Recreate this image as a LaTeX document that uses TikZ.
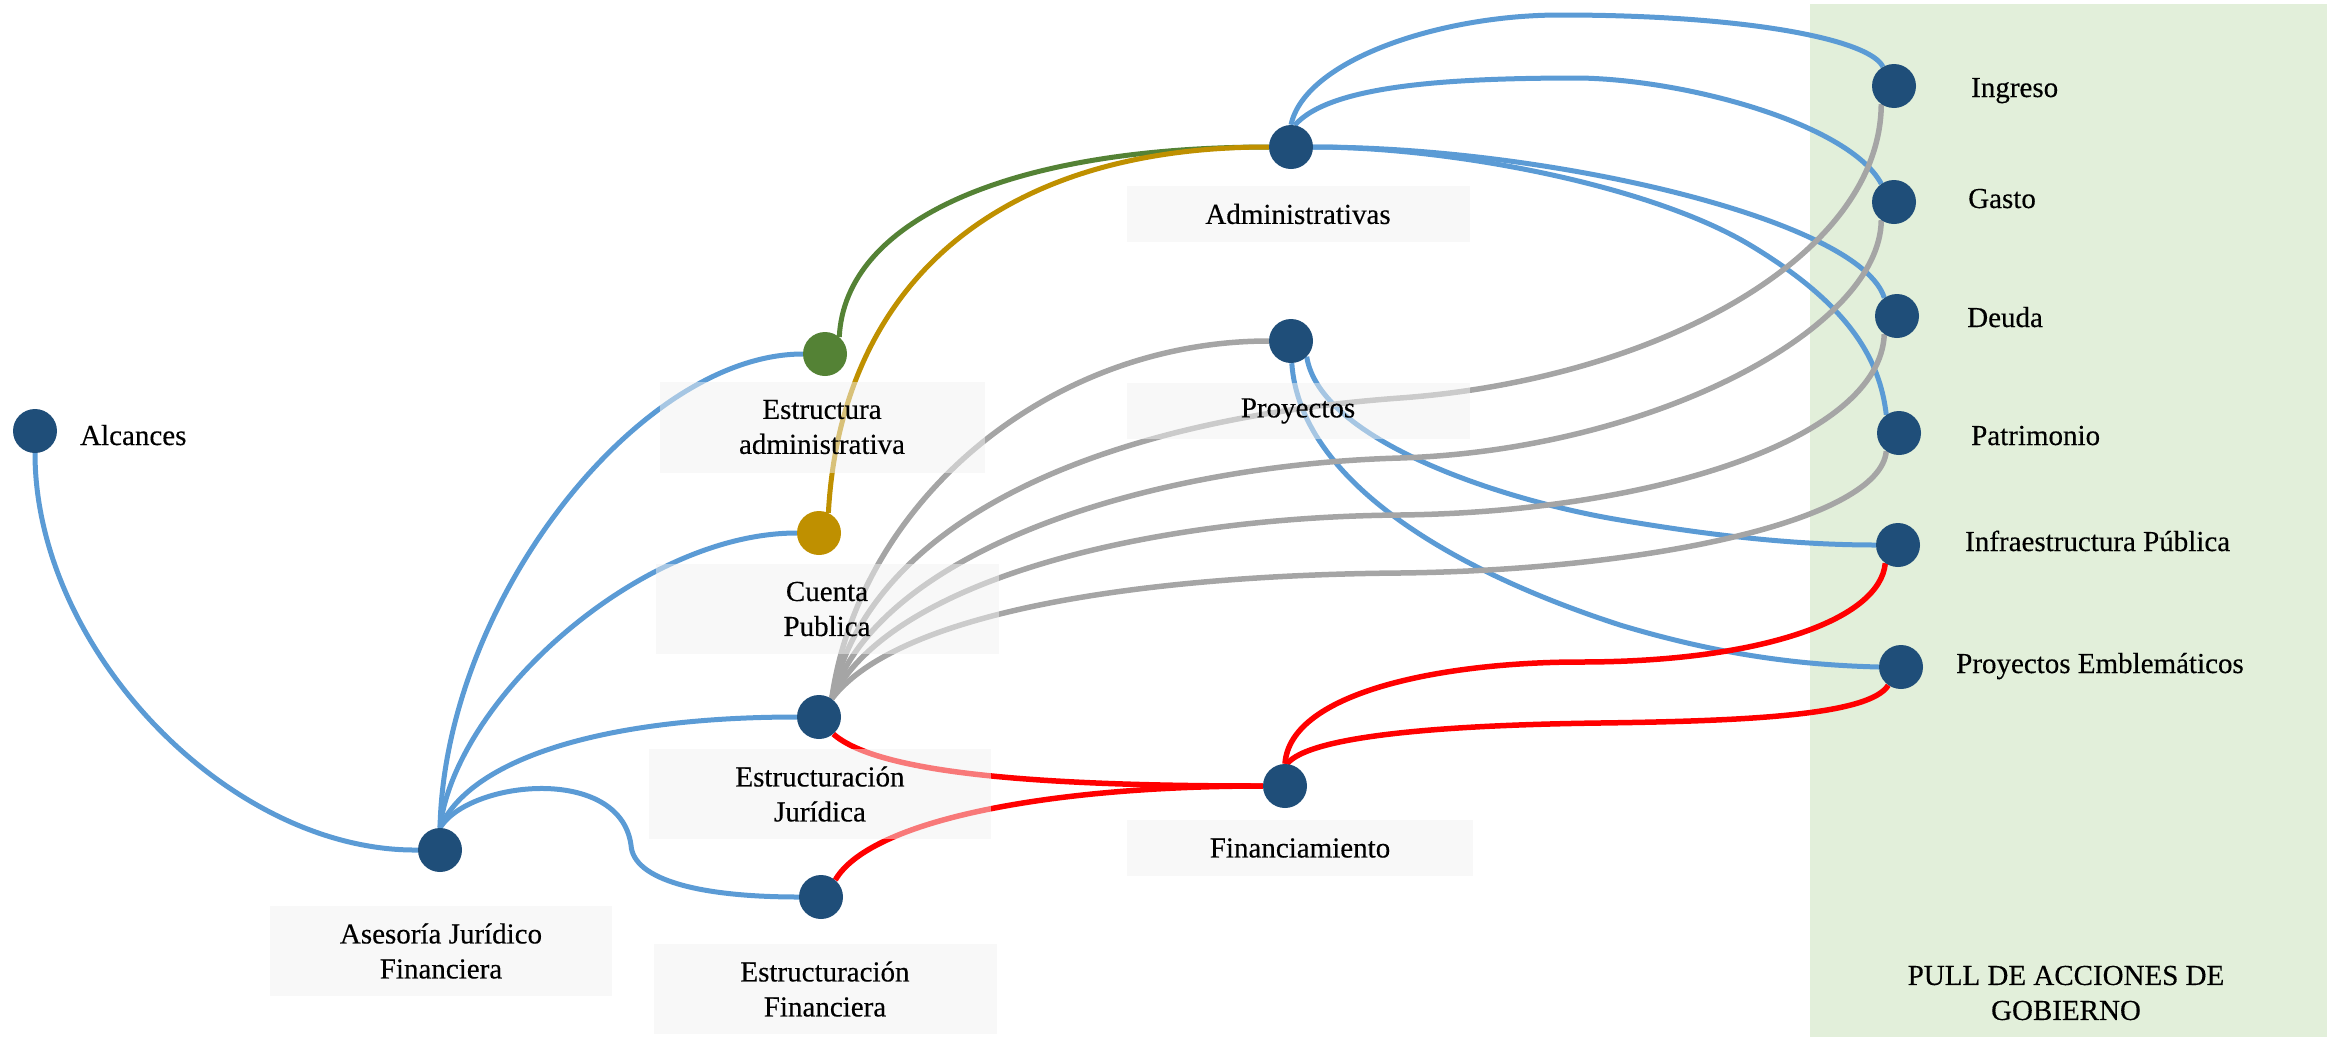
\documentclass[tikz,border=0pt]{standalone}
\usepackage{fontspec}
\setmainfont{Liberation Serif}
\newfontfamily\labfam{Liberation Serif}[FakeBold=0.35]
\definecolor{nodeblue}{HTML}{1F4E79}
\definecolor{lblue}{HTML}{5B9BD5}
\definecolor{lgray}{HTML}{A5A5A5}
\definecolor{lgreen}{HTML}{548235}
\definecolor{lgold}{HTML}{BF9000}
\definecolor{lred}{HTML}{FF0000}
\definecolor{panelgreen}{HTML}{E2EFDA}
\definecolor{boxfill}{HTML}{F2F2F2}
\newcommand\labfont{\labfam\fontsize{29}{35}\selectfont}
\pgfdeclarelayer{bg}
\pgfdeclarelayer{edges}
\pgfdeclarelayer{boxes}
\pgfsetlayers{bg,edges,boxes,main}
\begin{document}
\begin{tikzpicture}[x=1pt,y=-1pt,
  dot/.style={circle,fill=nodeblue,minimum size=44pt,inner sep=0pt},
  lbox/.style={fill=boxfill,fill opacity=0.5,text opacity=1,inner sep=0pt,
    minimum width=343pt,align=center,font=\labfont},
  lab/.style={font=\labfont,inner sep=0pt,anchor=base west},
  edge/.style={line width=5pt},
  eblue/.style={edge,draw=lblue},
  egray/.style={edge,draw=lgray,line width=5.5pt},
  ered/.style={edge,draw=lred,line width=5.5pt},
  egreen/.style={edge,draw=lgreen},
  egold/.style={edge,draw=lgold}]
\useasboundingbox (0,0) rectangle (2339,1039);
\begin{pgfonlayer}{bg}
\fill[panelgreen] (1810,4) rectangle (2327,1037);
\end{pgfonlayer}
% circles
\node[dot] (alc) at (35,431) {};
\node[dot] (ase) at (440,850) {};
\node[dot,fill=lgreen] (ea) at (825,354) {};
\node[dot,fill=lgold] (cp) at (819,533) {};
\node[dot] (ej) at (819,717) {};
\node[dot] (ef) at (821,897) {};
\node[dot] (adm) at (1291,147) {};
\node[dot] (pro) at (1291,341) {};
\node[dot] (fin) at (1285,786) {};
\node[dot] (ing) at (1894,86) {};
\node[dot] (gas) at (1894,202) {};
\node[dot] (deu) at (1897,316) {};
\node[dot] (pat) at (1899,433) {};
\node[dot] (inf) at (1898,545) {};
\node[dot] (pe) at (1901,667) {};
% labels
\node[lab] (alcT) at (80,445) {Alcances};
\node[lab] (ingT) at (1971,97) {Ingreso};
\node[lab] (gasT) at (1968,208) {Gasto};
\node[lab] (deuT) at (1967,327) {Deuda};
\node[lab] (patT) at (1971,445) {Patrimonio};
\node[lab] (infT) at (1965,551) {Infraestructura Pública};
\node[lab] (peT) at (1956,673) {Proyectos Emblemáticos};
\node[font=\labfont,align=center,inner sep=0pt] (pullT) at (2066,993) {PULL DE ACCIONES DE\\GOBIERNO};
\begin{pgfonlayer}{boxes}
\node[lbox,minimum width=342pt,minimum height=90pt] (aseB) at (441,951) {Asesoría Jurídico\\Financiera};
\node[lbox,minimum width=325pt,minimum height=91pt] (eaB) at (822,427) {Estructura\\administrativa};
\node[lbox,minimum height=90pt] (cpB) at (827,609) {Cuenta\\Publica};
\node[lbox,minimum width=342pt,minimum height=90pt] (ejB) at (820,794) {Estructuración\\Jurídica};
\node[lbox,minimum height=90pt] (efB) at (825,989) {Estructuración\\Financiera};
\node[lbox,minimum height=56pt] (admB) at (1298,214) {Administrativas};
\node[lbox,minimum height=56pt] (proB) at (1298,411) {Proyectos};
\node[lbox,minimum width=346pt,minimum height=56pt] (finB) at (1300,848) {Financiamiento};
\end{pgfonlayer}
\begin{pgfonlayer}{edges}
% blue from Alcances / Asesoria
\draw[eblue] (alc.south) .. controls (35,650) and (230,852) .. (ase.west);
\draw[eblue] (ase.north) .. controls (445,600) and (640,354) .. (ea.west);
\draw[eblue] (ase.north) .. controls (455,700) and (640,533) .. (cp.west);
\draw[eblue] (ase.north) .. controls (470,760) and (600,717) .. (ej.west);
\draw[eblue] (ase.north) .. controls (470,780) and (620,765) .. (631,845) .. controls (633,880) and (700,897) .. (ef.west);
% green and gold
\draw[egreen] (ea.50) .. controls (845,220) and (1010,147) .. (adm.west);
\draw[egold] (cp.65) .. controls (840,300) and (980,147) .. (adm.west);
% Administrativas
\draw[eblue] (adm.north) .. controls (1305,60) and (1440,15) .. (1560,15) .. controls (1750,15) and (1870,40) .. (ing.120);
\draw[eblue] (adm.80) .. controls (1330,85) and (1450,78) .. (1580,78) .. controls (1690,80) and (1850,125) .. (gas.125);
\draw[eblue] (adm.east) .. controls (1550,147) and (1860,220) .. (deu.125);
\draw[eblue] (adm.east) .. controls (1450,147) and (1650,185) .. (1750,245) .. controls (1850,305) and (1880,360) .. (pat.125);
% Proyectos
\draw[eblue] (pro.-45) .. controls (1320,440) and (1500,500) .. (1620,520) .. controls (1720,537) and (1800,545) .. (inf.west);
\draw[eblue] (pro.-88) .. controls (1300,480) and (1450,570) .. (1620,625) .. controls (1720,655) and (1800,665) .. (pe.west);
% gray from Estructuracion Juridica
\draw[egray] (ej.55) .. controls (860,500) and (1050,341) .. (pro.west);
\draw[egray] (ej.55) .. controls (870,520) and (1100,420) .. (1400,398) .. controls (1650,380) and (1880,260) .. (ing.-125);
\draw[egray] (ej.55) .. controls (880,550) and (1150,465) .. (1400,458) .. controls (1650,450) and (1880,330) .. (gas.-125);
\draw[egray] (ej.55) .. controls (890,580) and (1150,517) .. (1400,515) .. controls (1650,512) and (1880,440) .. (deu.-125);
\draw[egray] (ej.55) .. controls (900,610) and (1150,575) .. (1400,573) .. controls (1650,570) and (1880,520) .. (pat.-125);
% red
\draw[ered] (ej.-50) .. controls (880,775) and (1050,786) .. (fin.west);
\draw[ered] (ef.50) .. controls (870,820) and (1050,786) .. (fin.west);
\draw[ered] (fin.north) .. controls (1290,690) and (1450,662) .. (1580,662) .. controls (1760,662) and (1880,620) .. (inf.-125);
\draw[ered] (fin.85) .. controls (1310,735) and (1450,725) .. (1600,723) .. controls (1750,721) and (1870,715) .. (pe.-125);
\end{pgfonlayer}
\end{tikzpicture}
\end{document}
